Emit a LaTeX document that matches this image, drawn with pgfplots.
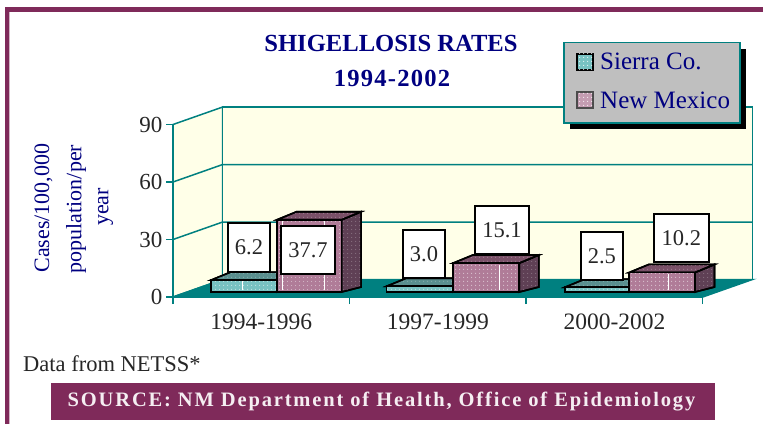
\documentclass[border=0pt]{standalone}
\usepackage{fontspec}
\setmainfont{Liberation Serif}
\usepackage{pgfplots}
\pgfplotsset{compat=1.18}
\usetikzlibrary{patterns.meta,shadows}
\definecolor{maroonc}{HTML}{7F2A5A}
\definecolor{tealc}{HTML}{008080}
\definecolor{wallc}{HTML}{FFFFE8}
\definecolor{navyc}{HTML}{000080}
\definecolor{sfront}{HTML}{78C2C2}
\definecolor{stop}{HTML}{5A8F8F}
\definecolor{sside}{HTML}{4E7878}
\definecolor{nfront}{HTML}{B07C98}
\definecolor{ntop}{HTML}{7A5068}
\definecolor{nside}{HTML}{5F4055}
\newcommand{\fs}[1]{\fontsize{#1}{#1}\selectfont}
\tikzset{dotted fill/.style={postaction={pattern={Dots[distance=4pt,radius=0.6pt]},pattern color=#1}}}
% x0, x1, value, front, top, side
\newcommand{\threedbar}[6]{%
  \pgfmathsetmacro{\xa}{#1}\pgfmathsetmacro{\xb}{#2}%
  \pgfmathsetmacro{\xc}{#1+0.111}\pgfmathsetmacro{\xd}{#2+0.111}%
  \pgfmathsetmacro{\ya}{2.6}\pgfmathsetmacro{\yt}{#3+2.6}%
  \pgfmathsetmacro{\yb}{5.2}\pgfmathsetmacro{\yu}{#3+6.8}%
  \addplot[forget plot,draw=black,line width=1.6pt,line join=miter,fill=#6,dotted fill=white!35!#6] coordinates {(\xb,\ya) (\xd,\yb) (\xd,\yu) (\xb,\yt)} --cycle;
  \addplot[forget plot,draw=black,line width=1.6pt,line join=miter,fill=#5,dotted fill=white!35!#5] coordinates {(\xa,\yt) (\xb,\yt) (\xd,\yu) (\xc,\yu)} --cycle;
  \addplot[forget plot,draw=black,line width=1.6pt,line join=miter,fill=#4,dotted fill=white!75!#4] coordinates {(\xa,\ya) (\xb,\ya) (\xb,\yt) (\xa,\yt)} --cycle;
}
\tikzset{vbox/.style={draw=black,line width=1.6pt,fill=white,inner sep=0pt,font=\fs{22.5},text=black!85}}
\begin{document}
\begin{tikzpicture}[x=1pt,y=1pt]
\path[use as bounding box] (0,0) rectangle (763,424);
% frame
\fill[maroonc!35!white] (5,416) rectangle (763,417);
\fill[maroonc!35!white] (9,0) rectangle (10,412);
\fill[maroonc] (5,0) rectangle (9,416.5);
\fill[maroonc] (5,412) rectangle (763,416.5);
\begin{axis}[
  at={(173pt,127pt)},anchor=south west,
  scale only axis,width=529.7pt,height=172.5pt,
  xmin=0,xmax=3,ymin=0,ymax=90,clip=false,
  axis lines*=left,
  axis line style={draw=tealc,line width=1.5pt,-},
  xtick={0,1,2,3},xticklabels={},
  ytick={0,30,60,90},
  extra x ticks={0.5,1.5,2.5},
  extra x tick labels={1994-1996,1997-1999,2000-2002},
  extra x tick style={major tick length=0pt,tick label style={yshift=-13pt}},
  tick style={draw=tealc,line width=1.5pt},
  major tick length=7pt,
  tick align=outside,
  tick pos=left,
  tick label style={font=\fs{23.5},text=black!85},
  yticklabel style={font=\fs{23}},
  /pgf/number format/assume math mode=true,
]
% walls and floor
\addplot[forget plot,fill=wallc,draw=tealc,line width=1.5pt] coordinates {(0,0) (0.2815,9.13) (0.2815,99.13) (0,90)} --cycle;
\addplot[forget plot,fill=wallc,draw=tealc,line width=1.5pt] coordinates {(0.2815,9.13) (3.2815,9.13) (3.2815,99.13) (0.2815,99.13)} --cycle;
\addplot[forget plot,fill=tealc,draw=tealc,line width=1.5pt] coordinates {(0,0) (3,0) (3.2815,9.13) (0.2815,9.13)} --cycle;
\addplot[forget plot,draw=tealc,line width=1.5pt] coordinates {(0,30) (0.2815,39.13) (3.2815,39.13)};
\addplot[forget plot,draw=tealc,line width=1.5pt] coordinates {(0,60) (0.2815,69.13) (3.2815,69.13)};
% Sierra Co.
\threedbar{0.2152}{0.5889}{6.2}{sfront}{stop}{sside}
\threedbar{1.210}{1.587}{3.0}{sfront}{stop}{sside}
\threedbar{2.220}{2.584}{2.5}{sfront}{stop}{sside}
% New Mexico
\threedbar{0.5889}{0.9547}{37.7}{nfront}{ntop}{nside}
\threedbar{1.587}{1.961}{15.1}{nfront}{ntop}{nside}
\threedbar{2.584}{2.956}{10.2}{nfront}{ntop}{nside}
% white inner lines
\addplot[forget plot,draw=white,line width=0.7pt] coordinates {(0.390,3.4) (0.390,8.2)};
\addplot[forget plot,draw=white,line width=0.7pt] coordinates {(0.622,3.4) (0.622,39.4)};
\addplot[forget plot,draw=white,line width=0.7pt] coordinates {(0.860,3.4) (0.860,39.4)};
\addplot[forget plot,draw=white,line width=0.7pt] coordinates {(1.846,3.4) (1.846,16.9)};
\addplot[forget plot,draw=white,line width=0.7pt] coordinates {(2.804,3.4) (2.804,12)};
% data labels
\node[vbox,minimum width=42pt,minimum height=49pt] at (axis cs:0.4304,25.8) {6.2};
\node[vbox,minimum width=54pt,minimum height=48pt] at (axis cs:0.7644,24.5) {37.7};
\node[vbox,minimum width=42pt,minimum height=48pt] at (axis cs:1.4213,22.4) {3.0};
\node[vbox,minimum width=54pt,minimum height=48pt] at (axis cs:1.863,35) {15.1};
\node[vbox,minimum width=42pt,minimum height=48pt] at (axis cs:2.429,21.4) {2.5};
\node[vbox,minimum width=55pt,minimum height=48pt] at (axis cs:2.879,30.8) {10.2};
\end{axis}
% title and annotations
\node[font=\fs{24.6}\bfseries,text=navyc] at (391,381) {SHIGELLOSIS RATES};
\node[font=\fs{24.6}\bfseries\addfontfeatures{LetterSpace=5},text=navyc] at (392,346) {1994-2002};
\node[rotate=90,font=\fs{22},text=navyc,inner sep=0pt] at (43.5,216) {Cases/100,000};
\node[rotate=90,font=\fs{22},text=navyc,inner sep=0pt] at (76,215) {population/per};
\node[rotate=90,font=\fs{22},text=navyc,inner sep=0pt] at (105.5,217) {year};
% legend
\node[anchor=north west,draw=tealc,line width=1.5pt,fill=black!25,minimum width=176pt,minimum height=80pt,inner sep=0pt,
      drop shadow={shadow xshift=6pt,shadow yshift=-6pt,opacity=1,fill=black}] at (563,382) {};
\filldraw[fill=sfront,draw=black,line width=1.6pt,dotted fill=white] (577,354) rectangle (593,370);
\filldraw[fill=nfront!75!white,draw=black!70,line width=1.6pt,dotted fill=white] (577,316) rectangle (593,332);
\node[anchor=base west,inner sep=0pt,font=\fs{25},text=navyc] at (600,354) {Sierra Co.};
\node[anchor=base west,inner sep=0pt,font=\fs{25},text=navyc] at (600,316) {New Mexico};
% footer
\node[anchor=base west,inner sep=0pt,font=\fs{22.5},text=black!85] at (23,53) {Data from NETSS*};
\fill[maroonc] (51,4) rectangle (715,41);
\node[font=\fs{20.5}\bfseries\addfontfeatures{LetterSpace=9},text=white!92!maroonc,inner sep=0pt] at (381.5,22.5) {SOURCE: NM Department of Health, Office of Epidemiology};
\end{tikzpicture}
\end{document}
